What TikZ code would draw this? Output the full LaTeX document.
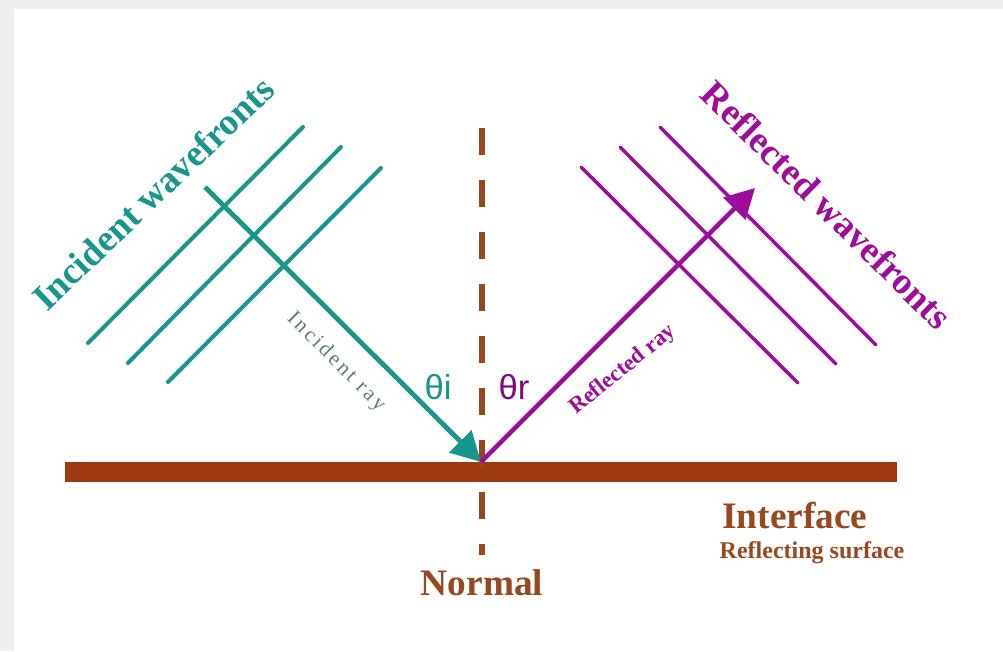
\documentclass[tikz,border=0pt]{standalone}
\usepackage{fontspec}
\setmainfont{Liberation Serif}
\newfontfamily\anglefont{Liberation Sans}
\usetikzlibrary{arrows.meta}
\definecolor{waveT}{RGB}{24,150,140}
\definecolor{waveP}{RGB}{158,12,158}
\definecolor{surfB}{RGB}{158,56,16}
\definecolor{textB}{RGB}{150,72,32}
\definecolor{rayG}{RGB}{95,125,125}
\definecolor{frameG}{RGB}{238,238,238}

\begin{document}
\begin{tikzpicture}[x=0.75pt,y=-0.75pt,>={Triangle[length=22pt,width=23pt]},
  front/.style={line width=3pt,line cap=round},
  bigtext/.style={font=\fontsize{28}{30}\selectfont\bfseries,inner sep=0pt},
  raytext/.style={inner sep=0pt}]
\useasboundingbox (0,0) rectangle (1003,651);
% page frame
\fill[frameG] (0,0) rectangle (1003,651);
\fill[white] (14,9) rectangle (1003,651);
% interface and the normal
\draw[surfB,line width=15pt] (65,472) -- (897,472);
\draw[textB,line width=4.5pt,dash pattern=on 20pt off 19pt] (482,128) -- (482,555);
\coordinate (O) at (481,462);
\coordinate (inc) at (205,187);
\coordinate (refl) at (755,188);
% incident wavefronts
\draw[waveT,front] (88,343) -- (303,127);
\draw[waveT,front] (128,363) -- (341,147);
\draw[waveT,front] (168,382) -- (381,168);
% reflected wavefronts
\draw[waveP,front,line width=2.6pt] (581,167) -- (798,383);
\draw[waveP,front,line width=2.6pt] (620,147) -- (836,364);
\draw[waveP,front,line width=2.6pt] (660,127) -- (876,345);
% the two rays
\draw[->,waveT,line width=3.6pt] (inc) -- (O);
\draw[->,waveP,line width=3.2pt] (O) -- (refl);
% labels
\node[bigtext,waveT,rotate=43.7] (incwave) at (153,193) {Incident wavefronts};
\node[bigtext,waveP,rotate=-44.6] (reflwave) at (827,205) {Reflected wavefronts};
\node[raytext,rayG,rotate=-45,font=\fontsize{16}{17}\selectfont\addfontfeature{LetterSpace=13}] (incray) at (336,362) {Incident ray};
\node[raytext,waveP,rotate=39,font=\fontsize{17}{18}\selectfont\bfseries] (reflray) at (623,370) {Reflected ray};
\node[raytext,waveT,font=\fontsize{26}{28}\anglefont] (thi) at (438,387) {θi};
\node[raytext,waveP!80!black,font=\fontsize{26}{28}\anglefont] (thr) at (514,387) {θr};
\node[bigtext,textB] (normal) at (482,583) {Normal};
\node[bigtext,textB] (iface) at (795,516) {Interface};
\node[raytext,textB,font=\fontsize{18}{20}\selectfont\bfseries] (rsurf) at (812,553) {Reflecting surface};
\end{tikzpicture}
\end{document}
